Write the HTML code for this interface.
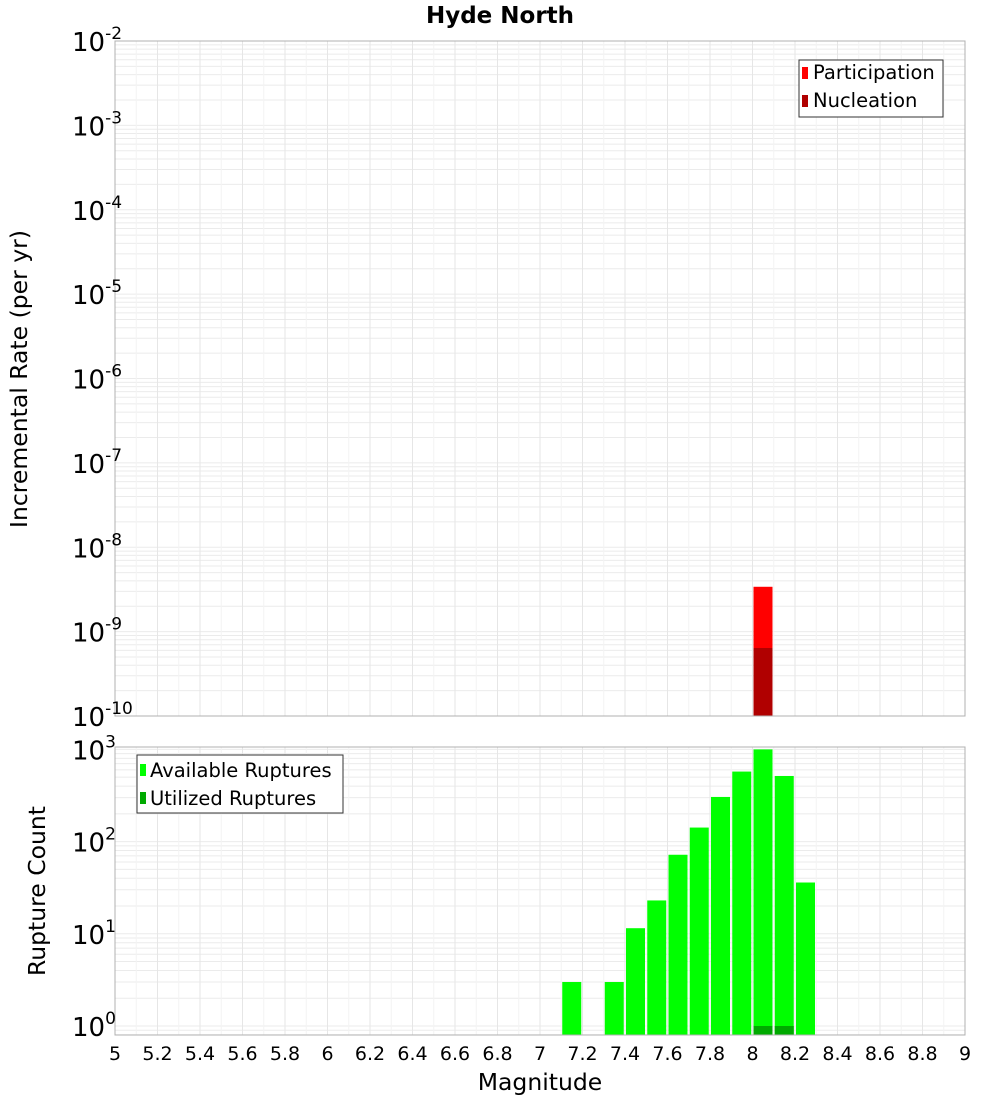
<!DOCTYPE html>
<html><head><meta charset="utf-8"><style>
body{margin:0;background:#fff;font-family:"DejaVu Sans","Liberation Sans",sans-serif}
</style></head><body>
<svg id="c" width="1000" height="1100" xmlns="http://www.w3.org/2000/svg" font-family="DejaVu Sans, Liberation Sans, sans-serif">
<text x="500" y="23" text-anchor="middle" font-weight="bold" font-size="23">Hyde North</text>
<g id="topPanel"></g><g id="botPanel"></g>
<text transform="translate(27,379) rotate(-90)" text-anchor="middle" font-size="23.5">Incremental Rate (per yr)</text>
<text transform="translate(45,891) rotate(-90)" text-anchor="middle" font-size="23.5">Rupture Count</text>
<text x="540" y="1090" text-anchor="middle" font-size="23.5">Magnitude</text>
<g>
<rect x="799" y="60" width="144" height="57" fill="#fff" stroke="#333"/>
<rect x="802" y="67" width="6" height="12" fill="#ff0000"/><text x="813" y="79" font-size="19.5">Participation</text>
<rect x="802" y="95" width="6" height="12" fill="#b00000"/><text x="813" y="107" font-size="19.5">Nucleation</text>
</g>
<g>
<rect x="137" y="755" width="206" height="58" fill="#fff" stroke="#333"/>
<rect x="140" y="764" width="6" height="12" fill="#00ff00"/><text x="150" y="777" font-size="19.5">Available Ruptures</text>
<rect x="140" y="792" width="6" height="12" fill="#00aa00"/><text x="150" y="805" font-size="19.5">Utilized Ruptures</text>
</g>
</svg>
<script>
const mags=[7.1,7.3,7.4,7.5,7.6,7.7,7.8,7.9,8.0,8.1,8.2];
const available=[3,3,11.5,23,72,142,305,575,1000,515,36];
const utilizedMags=[8.0,8.1];
const utilized=[1,1];
const partMags=[8.0];
const participation=[3.4e-9];
const nucleation=[6.4e-10];
const xTicks=[5,5.2,5.4,5.6,5.8,6,6.2,6.4,6.6,6.8,7,7.2,7.4,7.6,7.8,8,8.2,8.4,8.6,8.8,9];
const topExps=[-2,-3,-4,-5,-6,-7,-8,-9,-10];
const botExps=[0,1,2,3];
const NS='http://www.w3.org/2000/svg';
const X0=115,X1=965;
const xS=m=>X0+(m-5)/4*(X1-X0);
const yT=v=>41+(-2-Math.log10(v))*84.375;
const yB=v=>1026-Math.log10(v)*92.2;
function mk(p,t,a){const e=document.createElementNS(NS,t);for(const k in a)e.setAttribute(k,a[k]);p.appendChild(e);return e;}
const svgEl=document.getElementById('c');
function panel(g,y0,y1,yf,lo,hi){
  const bg=mk(g,'rect',{x:X0,y:y0,width:X1-X0,height:y1-y0,fill:'#fff'});
  
  
  for(let e=lo;e<hi;e++)for(let k=1;k<10;k++){const yy=yf(k*Math.pow(10,e));if(yy<y0||yy>y1)continue;
    mk(g,'line',{x1:X0,x2:X1,y1:yy,y2:yy,stroke:'#ebebeb','stroke-width':1});}
  for(let i=0;i<=40;i++){const xx=xS(5+i*0.1);mk(g,'line',{x1:xx,x2:xx,y1:y0,y2:y1,stroke:(i%2==0?'#e6e6e6':'#f3f3f3'),'stroke-width':1});}
}
const topG=document.getElementById('topPanel'),botG=document.getElementById('botPanel');
panel(topG,41,716,yT,-10,-2);
panel(botG,747,1035,yB,-1,4);
partMags.forEach((m,i)=>{
  const r=mk(topG,'rect',{x:xS(m)+1,y:yT(participation[i]),width:19,height:716-yT(participation[i]),fill:'#ff0000'});
  
  
  const n=mk(topG,'rect',{x:xS(m)+1,y:yT(nucleation[i]),width:19,height:716-yT(nucleation[i]),fill:'#b00000'});
  
  
});
mags.forEach((m,i)=>{
  const t=Math.max(747,yB(available[i]));
  const r=mk(botG,'rect',{x:xS(m)+1,y:t,width:19,height:1035-t,fill:'#00ff00'});
  
  
});
utilizedMags.forEach((m,i)=>{
  const t=yB(utilized[i]);
  const r=mk(botG,'rect',{x:xS(m)+1,y:t,width:19,height:1035-t,fill:'#00aa00'});
  
  
});
[[41,716],[747,1035]].forEach(([a,b])=>mk(svgEl,'rect',{x:X0,y:a,width:X1-X0,height:b-a,fill:'none',stroke:'#b0b0b0'}));
topExps.forEach(e=>{const yy=yT(Math.pow(10,e));
  const t=mk(svgEl,'text',{x:72,y:yy+10,'font-size':26});
  
  
  t.innerHTML='10<tspan dy="-12" font-size="17">'+e+'</tspan>';});
botExps.forEach(e=>{const yy=yB(Math.pow(10,e));
  const t=mk(svgEl,'text',{x:72,y:yy+10,'font-size':26});
  
  
  t.innerHTML='10<tspan dy="-12" font-size="17">'+e+'</tspan>';});
xTicks.forEach(v=>{const t=mk(svgEl,'text',{x:xS(v),y:1060,'text-anchor':'middle','font-size':19});
  
  
  t.textContent=String(Math.round(v*10)/10);});
</script>
</body></html>
